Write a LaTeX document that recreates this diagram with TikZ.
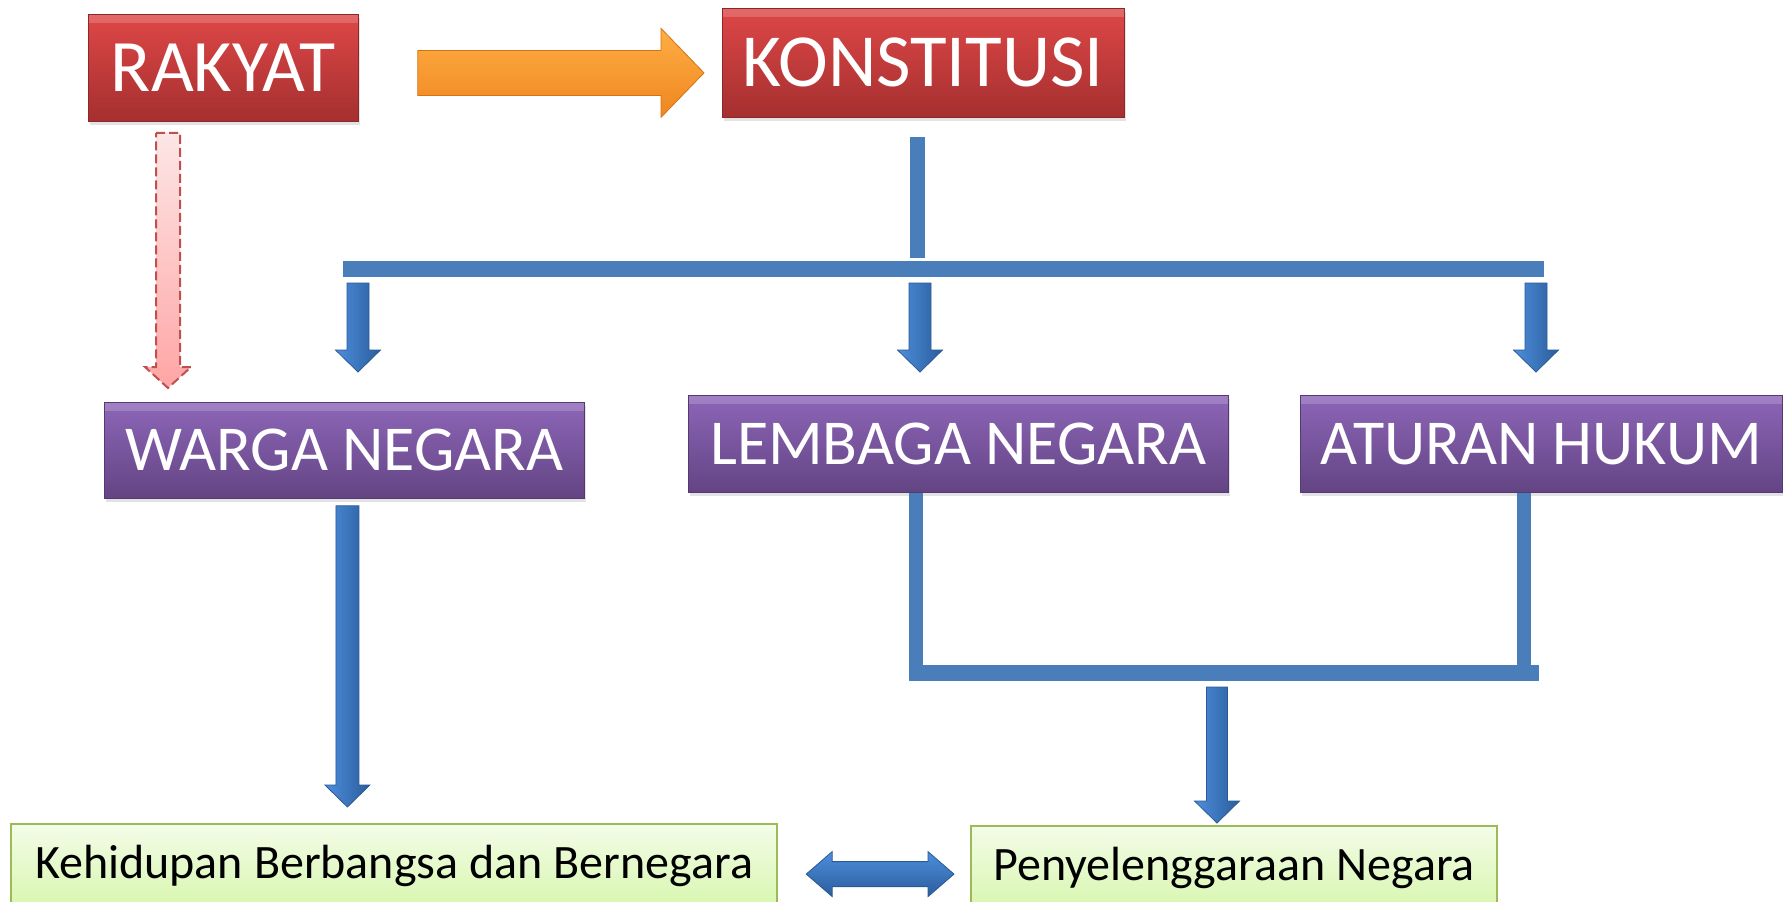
\documentclass[tikz,border=0pt]{standalone}
\usepackage{fontspec}
\setmainfont{Carlito}
\usetikzlibrary{calc,shadows}

\definecolor{redtop}{HTML}{DE4747}
\definecolor{redbot}{HTML}{A52F2F}
\definecolor{redline}{HTML}{8E2727}
\definecolor{purtop}{HTML}{8D66B8}
\definecolor{purbot}{HTML}{634483}
\definecolor{purline}{HTML}{553A72}
\definecolor{grntop}{HTML}{F3FCE8}
\definecolor{grnbot}{HTML}{D8F6AE}
\definecolor{grnline}{HTML}{9BBB59}
\definecolor{barblue}{HTML}{4A7EBB}
\definecolor{arrL}{HTML}{4D8EDC}
\definecolor{arrR}{HTML}{2B5D9C}
\definecolor{arrline}{HTML}{2A5A95}
\definecolor{ortop}{HTML}{FFAE45}
\definecolor{orbot}{HTML}{EE861E}
\definecolor{orline}{HTML}{D77212}
\definecolor{pinktop}{HTML}{FDE6E6}
\definecolor{pinkbot}{HTML}{FFA5A5}
\definecolor{pinkline}{HTML}{C0504D}

\tikzset{
  bevel/.style={path picture={\fill[white, opacity=0.18]
    (path picture bounding box.north west) rectangle
    ([yshift=-9pt]path picture bounding box.north east);}},
  basebox/.style={rectangle, inner sep=0pt, anchor=north west, align=center, bevel,
    drop shadow={shadow xshift=2pt, shadow yshift=-4pt, opacity=0.22}},
  redbox/.style={basebox, top color=redtop, bottom color=redbot, draw=redline,
    line width=0.8pt, text=white, font=\fontsize{74}{80}\selectfont},
  purbox/.style={basebox, top color=purtop, bottom color=purbot, draw=purline,
    line width=0.8pt, text=white, font=\fontsize{64}{70}\selectfont},
  grnbox/.style={rectangle, inner sep=0pt, anchor=north west, align=center,
    top color=grntop, bottom color=grnbot, draw=grnline, line width=2.2pt,
    font=\fontsize{48}{54}\selectfont},
  bar/.style={draw=barblue, line width=15pt, line cap=butt},
  fatv/.style={left color=arrL, right color=arrR, draw=arrline, line width=0.8pt},
  fath/.style={top color=arrL, bottom color=arrR, draw=arrline, line width=0.8pt},
  orarrow/.style={top color=ortop, bottom color=orbot, draw=orline, line width=0.8pt},
  pinkarrow/.style={top color=pinktop, bottom color=pinkbot, draw=pinkline,
    line width=2pt, dash pattern=on 9pt off 4pt},
}

% vertical fat arrow: #1 style, #2 top coord, #3 tip coord, #4 half shaft, #5 half head, #6 head length
\newcommand\vfatarrow[6]{%
  \path[#1] let \p1=(#2), \p2=(#3) in
    (\x1-#4,\y1) -- (\x1+#4,\y1) -- (\x1+#4,\y2+#6) -- (\x1+#5,\y2+#6) --
    (\x1,\y2) -- (\x1-#5,\y2+#6) -- (\x1-#4,\y2+#6) -- cycle;}
% horizontal fat arrow pointing right: #2 tail coord, #3 tip coord
\newcommand\hfatarrow[6]{%
  \path[#1] let \p1=(#2), \p2=(#3) in
    (\x1,\y1+#4) -- (\x2-#6,\y1+#4) -- (\x2-#6,\y1+#5) -- (\x2,\y1) --
    (\x2-#6,\y1-#5) -- (\x2-#6,\y1-#4) -- (\x1,\y1-#4) -- cycle;}
% double-headed horizontal fat arrow
\newcommand\dfatarrow[6]{%
  \path[#1] let \p1=(#2), \p2=(#3) in
    (\x1,\y1) -- (\x1+#6,\y1+#5) -- (\x1+#6,\y1+#4) -- (\x2-#6,\y1+#4) --
    (\x2-#6,\y1+#5) -- (\x2,\y1) -- (\x2-#6,\y1-#5) -- (\x2-#6,\y1-#4) --
    (\x1+#6,\y1-#4) -- (\x1+#6,\y1-#5) -- cycle;}

\begin{document}
\begin{tikzpicture}[x=1pt, y=-1pt]
\useasboundingbox (0,0) rectangle (1783,902);
\fill[white] (0,0) rectangle (1783,902);

% boxes
\node[redbox, minimum width=270pt, minimum height=107pt] (rakyat) at (88,14) {RAKYAT};
\node[redbox, font=\fontsize{75}{80}\selectfont, minimum width=402pt, minimum height=109pt] (konst) at (722,8) {KONSTITUSI};
\node[purbox, minimum width=480pt, minimum height=96pt] (warga) at (104,402) {WARGA NEGARA};
\node[purbox, minimum width=540pt, minimum height=97pt] (lembaga) at (688,395) {LEMBAGA NEGARA};
\node[purbox, minimum width=482pt, minimum height=97pt] (aturan) at (1300,395) {ATURAN HUKUM};
\node[grnbox, minimum width=766pt, minimum height=84pt] (keh) at (10,823) {Kehidupan Berbangsa dan Bernegara};
\node[grnbox, minimum width=526pt, minimum height=84pt] (pen) at (970,825) {Penyelenggaraan Negara};

% orange arrow RAKYAT -> KONSTITUSI
\coordinate (o1) at ($(rakyat.east)+(59,5)$);
\coordinate (o2) at ($(konst.west)+(-18,10)$);
\hfatarrow{orarrow}{o1}{o2}{22.5pt}{44.5pt}{43pt}

% pink dashed arrow RAKYAT -> WARGA NEGARA
\coordinate (p1) at ($(rakyat.south west)+(80,11)$);
\coordinate (p2) at ($(warga.north west)+(64,-14)$);
\vfatarrow{pinkarrow}{p1}{p2}{12pt}{23pt}{21pt}

% tree from KONSTITUSI
\coordinate (k1) at ($(konst.south)+(-6,19)$);
\coordinate (k2) at ($(konst.south)+(-6,140)$);
\coordinate (hl) at (343,269);
\coordinate (hr) at (1544,269);
\draw[bar] (k1) -- (k2);
\draw[bar, line width=16pt] (hl) -- (hr);

\coordinate (a1t) at (358,283);
\coordinate (a1b) at ($(warga.north)+(14,-30)$);
\coordinate (a2t) at (920,283);
\coordinate (a2b) at (920,372);
\coordinate (a3t) at (1536,283);
\coordinate (a3b) at (1536,372);
\vfatarrow{fatv}{a1t}{a1b}{11pt}{22.5pt}{22pt}
\vfatarrow{fatv}{a2t}{a2b}{11pt}{22.5pt}{22pt}
\vfatarrow{fatv}{a3t}{a3b}{11pt}{22.5pt}{22pt}

% WARGA NEGARA -> Kehidupan
\coordinate (w1) at ($(warga.south)+(3,7)$);
\coordinate (w2) at ($(w1 |- keh.north)+(0,-16)$);
\vfatarrow{fatv}{w1}{w2}{11.5pt}{22.5pt}{22pt}

% bracket from LEMBAGA and ATURAN
\coordinate (l1) at ($(lembaga.south west)+(228,0)$);
\coordinate (l2) at (916,681);
\coordinate (r1) at ($(aturan.south west)+(224,0)$);
\coordinate (r2) at (1524,666);
\coordinate (bl) at (909,673);
\coordinate (br) at (1539,673);
\draw[bar, line width=14pt] (l1) -- (l2);
\draw[bar, line width=14pt] (r1) -- (r2);
\draw[bar, line width=16pt] (bl) -- (br);

% -> Penyelenggaraan
\coordinate (d1) at (1217,687);
\coordinate (d2) at ($(d1 |- pen.north)+(0,-2)$);
\vfatarrow{fatv}{d1}{d2}{10.5pt}{22.5pt}{22pt}

% double arrow between green boxes
\coordinate (e1) at ($(keh.east)+(28,8)$);
\coordinate (e2) at ($(pen.west)+(-16,6)$);
\dfatarrow{fath}{e1}{e2}{12.5pt}{22.5pt}{26pt}
\end{tikzpicture}
\end{document}
